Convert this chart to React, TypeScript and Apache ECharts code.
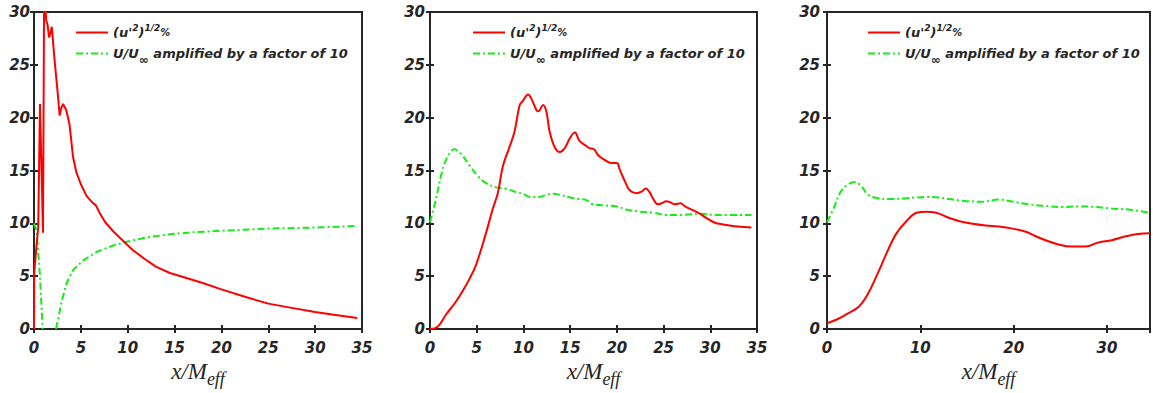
import React, { useEffect, useRef } from "react";
import * as echarts from "echarts";

const RMS = "rms";
const UU = "U";

// Panel 1
const p1Rms: [number, number][] = [
  [0, 0], [0.02, 5.3], [0.3, 8.2], [0.45, 9.6], [0.64, 21.3], [0.96, 9.1], [1.07, 30], [1.2, 31],
  [1.3, 29.2], [1.45, 28.8], [1.6, 27.6], [1.75, 28], [1.9, 28.6], [2.2, 25.4], [2.5, 22.6],
  [2.74, 20.2], [2.9, 20.9], [3.1, 21.3], [3.45, 20.7], [3.8, 19.3], [4.16, 16.3], [4.5, 14.9],
  [5.0, 13.7], [5.6, 12.6], [6.2, 12.0], [6.6, 11.7], [7.0, 11.0], [7.6, 10.1], [8.5, 9.2],
  [9.5, 8.35], [10.5, 7.5], [11.7, 6.7], [13, 5.9], [14.5, 5.3], [16, 4.9], [18, 4.35],
  [20, 3.75], [22.5, 3.05], [25, 2.4], [27.5, 2.0], [30, 1.6], [32, 1.35], [34.5, 1.05],
];
const p1U: [number, number | string][] = [
  [0, 10], [0.28, 9.3], [0.64, 5], [0.92, 0], [1.6, "-"], [2.35, 0], [2.95, 2.6], [3.5, 4.4],
  [4.2, 5.6], [5.26, 6.5], [6.7, 7.3], [8.46, 7.9], [9.9, 8.26], [12, 8.66], [14.5, 8.97],
  [17, 9.15], [20, 9.3], [25, 9.5], [30, 9.6], [34.5, 9.75],
];

// Panel 2
const p2Rms: [number, number][] = [
  [0, 0], [0.5, 0.05], [1.0, 0.4], [1.72, 1.37], [2.79, 2.6], [3.5, 3.6], [4.2, 4.7], [4.94, 6.1],
  [6.0, 9.1], [6.73, 11.4], [7.27, 12.9], [7.8, 15.4], [8.5, 17.2], [9.05, 18.7], [9.6, 21.2],
  [9.95, 21.6], [10.5, 22.2], [10.85, 21.8], [11.4, 20.7], [11.6, 20.6], [12.1, 21.2],
  [12.45, 20.6], [12.8, 18.7], [13.35, 17.2], [13.9, 16.75], [14.4, 17.1], [15.0, 18.1],
  [15.5, 18.6], [16.0, 17.8], [16.6, 17.4], [17.1, 17.1], [17.5, 17.05], [18.0, 16.45],
  [18.7, 16.0], [19.4, 15.7], [20.0, 15.7], [20.3, 15.1], [20.9, 13.9], [21.4, 13.1],
  [22.1, 12.85], [22.65, 13.0], [23.1, 13.3], [23.5, 12.95], [23.9, 12.3], [24.4, 11.8],
  [24.8, 11.9], [25.3, 12.1], [25.7, 12.0], [26.2, 11.8], [26.8, 11.9], [27.3, 11.6],
  [28.0, 11.3], [28.9, 10.9], [29.6, 10.5], [30.5, 10.05], [31.4, 9.9], [32.9, 9.7], [34.4, 9.6],
];
const p2U: [number, number][] = [
  [0, 10.1], [0.64, 12.3], [1.18, 14.5], [1.72, 16.0], [2.6, 17.0], [3.3, 16.6], [4.2, 15.5],
  [5.1, 14.5], [6.0, 13.8], [7.1, 13.4], [8.2, 13.25], [9.2, 12.95], [9.95, 12.8], [10.7, 12.5],
  [11.7, 12.5], [12.45, 12.7], [13.2, 12.8], [13.9, 12.7], [15.0, 12.45], [16.0, 12.3],
  [16.75, 12.2], [17.3, 11.85], [18.5, 11.7], [20.0, 11.6], [21.0, 11.3], [22.5, 11.1],
  [23.9, 11.0], [25.3, 10.8], [27.1, 10.8], [28.9, 10.9], [30.7, 10.8], [34.4, 10.8],
];

// Panel 3
const p3Rms: [number, number][] = [
  [0, 0.55], [1.06, 0.9], [2.1, 1.4], [3.4, 2.1], [4.3, 3.2], [5.3, 5.0], [6.4, 7.2], [7.4, 9.0],
  [8.5, 10.2], [9.6, 11.0], [10.6, 11.1], [11.7, 11.0], [13.1, 10.5], [14.2, 10.2], [15.6, 9.96],
  [17.0, 9.8], [18.4, 9.7], [19.9, 9.5], [21.3, 9.2], [22.3, 8.8], [23.4, 8.4], [24.8, 8.0],
  [26.2, 7.8], [27.7, 7.8], [29.1, 8.2], [30.5, 8.4], [31.9, 8.75], [33.3, 9.0], [34.6, 9.05],
];
const p3U: [number, number][] = [
  [0, 10.1], [0.7, 11.4], [1.4, 12.9], [2.1, 13.6], [3.0, 13.9], [3.7, 13.5], [4.4, 12.7],
  [5.3, 12.4], [6.7, 12.3], [8.2, 12.35], [9.6, 12.45], [11.3, 12.5], [13.1, 12.3], [14.9, 12.1],
  [16.7, 12.05], [18.4, 12.25], [19.9, 12.05], [21.6, 11.8], [23.4, 11.65], [25.2, 11.55],
  [27.0, 11.6], [28.7, 11.55], [30.5, 11.4], [32.3, 11.3], [34.6, 11.0],
];

const X_MAX = [35, 35, 34.6];
const X_INTERVAL = [5, 5, 10];
const Y_MIN = 0;
const Y_MAX = 30;
const Y_INTERVAL = 5;

const rmsData = [p1Rms, p2Rms, p3Rms];
const uData = [p1U, p2U, p3U];

const GRIDS = [
  { left: 34, top: 12, width: 328, height: 325 },
  { left: 430, top: 12, width: 327, height: 325 },
  { left: 827, top: 12, width: 325, height: 325 },
];
const LEGEND_LEFT = [75, 472, 867];
const Y_LABEL_MARGIN = [4, 5, 7];

const INK = "#262626";
const RED = "#ff0000";
const GREEN = "#14ee14";
const SANS = "DejaVu Sans";

export default function App() {
  const ref = useRef<HTMLDivElement>(null);
  useEffect(() => {
    if (!ref.current) return;
    const chart = echarts.init(ref.current, null, { renderer: "svg" });

    const tickLabel = {
      color: INK,
      fontFamily: SANS,
      fontStyle: "italic",
      fontWeight: "bold",
      fontSize: 15,
    };

    const xAxis: any[] = [];
    const yAxis: any[] = [];
    const series: any[] = [];
    const legend: any[] = [];

    GRIDS.forEach((g, i) => {
      const xi = X_INTERVAL[i];
      xAxis.push({
        type: "value",
        gridIndex: i,
        position: "bottom",
        min: 0,
        max: X_MAX[i],
        interval: xi,
        axisLine: { show: false },
        axisTick: { show: true, inside: true, length: 4, lineStyle: { color: INK, width: 2 } },
        splitLine: { show: false },
        axisLabel: {
          ...tickLabel,
          margin: 11,
          formatter: (v: number) => (Math.abs(v / xi - Math.round(v / xi)) < 1e-6 ? String(v) : ""),
        },
        name: "{a|x/M}{s|eff}",
        nameLocation: "middle",
        nameGap: 31,
        nameTextStyle: {
          rich: {
            a: {
              fontFamily: "Liberation Serif",
              fontStyle: "italic",
              fontSize: 23,
              lineHeight: 22,
              color: INK,
              verticalAlign: "top",
            },
            s: {
              fontFamily: "Liberation Serif",
              fontStyle: "italic",
              fontSize: 18,
              lineHeight: 18,
              color: INK,
              verticalAlign: "top",
              padding: [10, 0, 0, 0],
            },
          },
        },
      });
      xAxis.push({
        type: "value",
        gridIndex: i,
        position: "top",
        min: 0,
        max: X_MAX[i],
        interval: xi,
        axisLine: { show: false },
        axisTick: { show: true, inside: true, length: 4, lineStyle: { color: INK, width: 2 } },
        splitLine: { show: false },
        axisLabel: { show: false },
      });
      yAxis.push({
        type: "value",
        gridIndex: i,
        position: "left",
        min: Y_MIN,
        max: Y_MAX,
        interval: Y_INTERVAL,
        axisLine: { show: false },
        axisTick: { show: true, inside: true, length: 4, lineStyle: { color: INK, width: 2 } },
        splitLine: { show: false },
        axisLabel: { ...tickLabel, margin: Y_LABEL_MARGIN[i] },
      });
      yAxis.push({
        type: "value",
        gridIndex: i,
        position: "right",
        min: Y_MIN,
        max: Y_MAX,
        interval: Y_INTERVAL,
        axisLine: { show: false },
        axisTick: { show: true, inside: true, length: 4, lineStyle: { color: INK, width: 2 } },
        splitLine: { show: false },
        axisLabel: { show: false },
      });

      series.push({
        name: RMS,
        type: "line",
        xAxisIndex: i * 2,
        yAxisIndex: i * 2,
        data: rmsData[i],
        symbol: "none",
        smooth: i === 0 ? false : 0.4,
        clip: true,
        lineStyle: { color: RED, width: 2 },
        itemStyle: { color: RED },
        z: 3,
      });
      series.push({
        name: UU,
        type: "line",
        xAxisIndex: i * 2,
        yAxisIndex: i * 2,
        data: uData[i],
        symbol: "none",
        smooth: i === 0 ? false : 0.4,
        connectNulls: false,
        clip: true,
        lineStyle: { color: GREEN, width: 2, type: [7, 3, 2, 3] },
        itemStyle: { color: GREEN },
        z: 2,
      });

      const rich = {
        m: { fontFamily: SANS, fontStyle: "italic", fontWeight: "bold", fontSize: 13, lineHeight: 15, color: INK },
        sup: {
          fontFamily: SANS,
          fontStyle: "italic",
          fontWeight: "bold",
          fontSize: 9,
          lineHeight: 10,
          color: INK,
          padding: [0, 0, 10, 0],
        },
        pct: { fontFamily: SANS, fontStyle: "italic", fontWeight: "bold", fontSize: 10, lineHeight: 12, color: INK },
        sub: {
          fontFamily: SANS,
          fontStyle: "italic",
          fontWeight: "bold",
          fontSize: 12,
          lineHeight: 10,
          color: INK,
          padding: [13, 0, 0, 0],
        },
      };
      const fmt = (name: string) =>
        name === RMS
          ? "{m|(u'}{sup|2}{m|)}{sup|1/2}{pct|%}"
          : "{m|U/U}{sub|∞}{m| amplified by a factor of 10}";

      const legendBase = {
        left: LEGEND_LEFT[i],
        padding: 0,
        itemWidth: 32,
        itemHeight: 14,
        selectedMode: false,
        formatter: fmt,
        textStyle: { rich },
        itemStyle: { color: "transparent", opacity: 0, borderWidth: 0 },
      };
      legend.push({ ...legendBase, data: [RMS], top: 23 });
      legend.push({ ...legendBase, data: [UU], top: 41 });
    });

    chart.setOption({
      animation: false,
      backgroundColor: "#ffffff",
      grid: GRIDS.map((g) => ({
        ...g,
        show: true,
        borderColor: INK,
        borderWidth: 2,
        backgroundColor: "transparent",
        containLabel: false,
      })),
      xAxis,
      yAxis,
      legend,
      series,
    });

    return () => chart.dispose();
  }, []);

  return (
    <div
      ref={ref}
      style={{ position: "fixed", left: 0, top: 0, width: 1153, height: 393, background: "#fff" }}
    />
  );
}
